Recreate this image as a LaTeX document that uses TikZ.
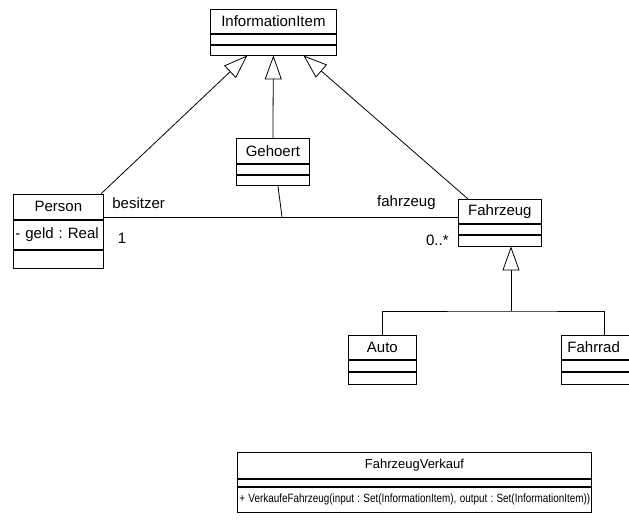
\documentclass[tikz,border=0pt]{standalone}
\usepackage{fontspec}
\setmainfont{Liberation Sans}
\usetikzlibrary{arrows.meta}
\frenchspacing

\tikzset{
  cls/.style={draw, rectangle, inner sep=0pt, anchor=north west, font=\fontsize{15}{17}\selectfont},
  attr/.style={cls, align=left, inner xsep=2pt},
  lbl/.style={inner sep=0pt, font=\fontsize{15}{17}\selectfont},
  gen/.style={-{Triangle[open, length=24pt, width=17pt]}},
}

\begin{document}
\begin{tikzpicture}[x=1pt, y=-1pt, line width=0.8pt]
        \clip (0,0) rectangle (629,523);
        % Classes:
        \node[cls, minimum width=126pt, minimum height=24pt] (info) at (210,9) {InformationItem};
        \node[cls, minimum width=126pt, minimum height=10pt] (infoatt) at (info.south west) {};
        \node[cls, minimum width=126pt, minimum height=10pt] (infoop) at (infoatt.south west) {};
        \node[cls, minimum width=90pt, minimum height=25pt] (person) at (13,194) {Person};
        \node[attr, text width=86pt, minimum height=29pt] (personatt) at (person.south west) {- geld : Real};
        \node[cls, minimum width=90pt, minimum height=18pt] (personop) at (personatt.south west) {};
        \node[cls, minimum width=73pt, minimum height=25pt] (geh) at (236,138) {Gehoert};
        \node[cls, minimum width=73pt, minimum height=10pt] (gehatt) at (geh.south west) {};
        \node[cls, minimum width=73pt, minimum height=10pt] (gehop) at (gehatt.south west) {};
        \node[cls, minimum width=83pt, minimum height=24pt] (fzg) at (458,199) {Fahrzeug};
        \node[cls, minimum width=83pt, minimum height=10pt] (fzgatt) at (fzg.south west) {};
        \node[cls, minimum width=83pt, minimum height=11pt] (fzgop) at (fzgatt.south west) {};
        \node[cls, minimum width=68pt, minimum height=24pt] (auto) at (348,335) {Auto};
        \node[cls, minimum width=68pt, minimum height=11pt] (autoatt) at (auto.south west) {};
        \node[cls, minimum width=68pt, minimum height=12pt] (autoop) at (autoatt.south west) {};
        \node[attr, text width=74pt, inner xsep=6pt, minimum height=24pt] (fahrrad) at (561,335) {Fahrrad};
        \node[cls, minimum width=86pt, minimum height=11pt] (fahrradatt) at (fahrrad.south west) {};
        \node[cls, minimum width=86pt, minimum height=12pt] (fahrradop) at (fahrradatt.south west) {};
        \node[cls, minimum width=354pt, minimum height=26pt, font=\fontsize{13}{15}\selectfont] (verkauf) at (237,452) {FahrzeugVerkauf};
        \node[cls, minimum width=354pt, minimum height=7pt] (verkaufatt) at (verkauf.south west) {};
        \node[attr, text width=350pt, minimum height=25pt, font=\fontsize{12}{14}\selectfont] (verkaufop) at (verkaufatt.south west) {\scalebox{0.825}[1]{+ VerkaufeFahrzeug(input : Set(InformationItem), output : Set(InformationItem))}};
        % Association and labels:
        \coordinate (assoc) at (0,217);
        \coordinate (link) at (282,217);
        \draw (personatt.east |- assoc) -- (fzg.west |- assoc);
        \draw ([xshift=5pt]gehop.south) -- (link);
        \node[lbl, anchor=west] (besitzer) at (112,203) {besitzer};
        \node[lbl] (mult1) at (122,238) {1};
        \node[lbl, anchor=east] (fahrzeuglbl) at (436,203) {fahrzeug};
        \node[lbl, anchor=east] (multn) at (449,240) {0..*};
        % Generalizations:
        \draw[gen] ([xshift=-3pt]person.north east) -- ([xshift=-26pt]infoop.south);
        \draw[gen] (geh.north) -- (infoop.south);
        \draw[gen] ([xshift=10pt]fzg.north west) -- ([xshift=30pt]infoop.south);
        \coordinate (fork) at (511,311);
        \draw[gen] (fork) -- (fzgop.south -| fork);
        \draw (auto.north) |- (fork) -| (fahrrad.north);
\end{tikzpicture}
\end{document}
